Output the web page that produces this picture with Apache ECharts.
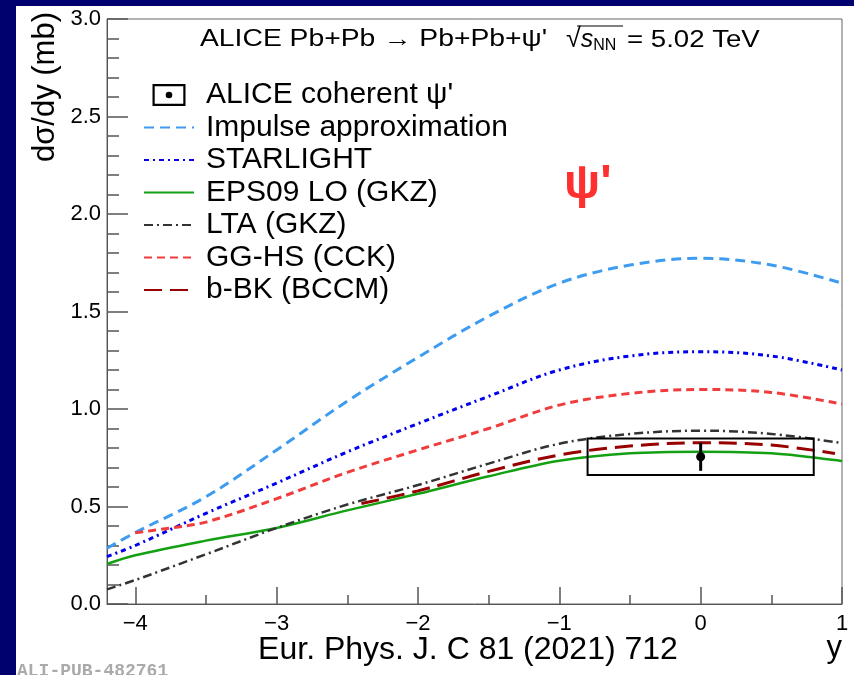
<!DOCTYPE html>
<html><head><meta charset="utf-8">
<script src="https://cdn.jsdelivr.net/npm/echarts@6/dist/echarts.min.js"></script>
<style>html,body{margin:0;padding:0;background:#00006e}#c{width:854px;height:675px}</style>
</head><body><div id="c"></div>
<script>
// ---- data ----
const rapidity  = [-4.2, -4.0, -3.5, -3.0, -2.5, -2.0, -1.5, -1.0, -0.5, 0.0, 0.5, 1.0];
const impulse   = [0.286, 0.366, 0.55, 0.79, 1.04, 1.265, 1.475, 1.645, 1.738, 1.773, 1.738, 1.645];
const starlight = [0.243, 0.30, 0.465, 0.62, 0.78, 0.925, 1.065, 1.200, 1.272, 1.294, 1.272, 1.200];
const eps09     = [0.205, 0.25, 0.325, 0.39, 0.48, 0.565, 0.655, 0.735, 0.773, 0.781, 0.773, 0.733];
const lta       = [0.075, 0.123, 0.255, 0.39, 0.51, 0.61, 0.72, 0.822, 0.872, 0.889, 0.872, 0.825];
const gghsRapidity = [-4.0, -3.75, -3.5, -3.0, -2.5, -2.0, -1.5, -1.0, -0.5, 0.0, 0.5, 1.0];
const gghs         = [0.365, 0.39, 0.42, 0.54, 0.675, 0.79, 0.90, 1.02, 1.08, 1.10, 1.085, 1.025];
const bbkRapidity  = [-2.4, -2.0, -1.5, -1.0, -0.5, 0.0, 0.5, 0.95];
const bbk          = [0.515, 0.58, 0.68, 0.764, 0.81, 0.827, 0.815, 0.772];
const aliceRapidity = [0.0];
const aliceValue    = [0.755];
const aliceStat     = [0.072];
const aliceSyst     = [0.094];
const aliceHalfBin  = [0.8];
const xMajorTicks = [-4, -3, -2, -1, 0, 1];
const xMinorTicks = [-3.5, -2.5, -1.5, -0.5, 0.5];
const seriesNames = ["ALICE coherent \u03c8'", 'Impulse approximation', 'STARLIGHT', 'EPS09 LO (GKZ)', 'LTA (GKZ)', 'GG-HS (CCK)', 'b-BK (BCCM)'];

const pair = (xs, ys) => xs.map((x, i) => [x, ys[i]]);
const FONT = '"Liberation Sans", Arial, sans-serif';

const chart = echarts.init(document.getElementById('c'));
const lineSeries = (name, xs, ys, color, dash, width) => ({
  name, type: 'line', data: pair(xs, ys), smooth: 0.35, symbol: 'none',
  lineStyle: { color, width, type: dash }, itemStyle: { color }, z: 3
});

const boxIcon = 'path://M0,0 L30,0 L30,20 L0,20 Z M2,2 L2,18 L28,18 L28,2 Z M15,7 A3,3 0 1,1 15,13 A3,3 0 1,1 15,7 Z';

chart.setOption({
  backgroundColor: '#00006e',
  animation: false,
  grid: { left: 107, top: 19, width: 735, height: 585, show: true, borderColor: '#666', borderWidth: 1, backgroundColor: 'transparent', containLabel: false },
  xAxis: [{
    type: 'value', min: -4.2, max: 1, position: 'bottom',
    axisLine: { show: true, onZero: false, lineStyle: { color: '#555', width: 1 } },
    axisTick: { show: true, inside: true, length: 17, customValues: xMajorTicks, lineStyle: { color: '#555', width: 1.5 } },
    axisLabel: { show: true, customValues: xMajorTicks, margin: 9, fontSize: 22, color: '#000', fontFamily: FONT,
      formatter: v => String(v).replace('-', '\u2212') },
    splitLine: { show: false }
  }, {
    type: 'value', min: -4.2, max: 1, position: 'bottom', gridIndex: 0,
    axisLine: { show: false, onZero: false },
    axisTick: { show: true, inside: true, length: 9, customValues: xMinorTicks, lineStyle: { color: '#555', width: 1.5 } },
    axisLabel: { show: false }, splitLine: { show: false }
  }],
  yAxis: {
    type: 'value', min: 0, max: 3, interval: 0.5,
    axisLine: { show: true, onZero: false, lineStyle: { color: '#555', width: 1 } },
    axisTick: { show: true, inside: true, length: 21, lineStyle: { color: '#555', width: 1.5 } },
    minorTick: { show: true, splitNumber: 5, length: 12, lineStyle: { color: '#555', width: 1.5 } },
    axisLabel: { margin: 6, fontSize: 22, color: '#000', fontFamily: FONT, formatter: v => v.toFixed(1) },
    splitLine: { show: false }, minorSplitLine: { show: false }
  },
  legend: {
    orient: 'vertical', left: 143, top: 80, padding: 0, itemWidth: 50, itemHeight: 22, itemGap: 2.5,
    itemStyle: { opacity: 0 },
    textStyle: { fontSize: 30, color: '#000', fontFamily: FONT, padding: [0, 0, 0, 7] },
    data: [
      { name: seriesNames[0], icon: boxIcon, itemStyle: { color: '#000', opacity: 1 } },
      { name: seriesNames[1] }, { name: seriesNames[2] }, { name: seriesNames[3] },
      { name: seriesNames[4] }, { name: seriesNames[5] }, { name: seriesNames[6] }
    ]
  },
  series: [
    {
      name: seriesNames[0], type: 'custom', z: 4,
      data: aliceRapidity.map((x, i) => [x, aliceValue[i], aliceStat[i], aliceSyst[i], aliceHalfBin[i]]),
      encode: { x: 0, y: 1 }, itemStyle: { color: '#000' },
      renderItem: (params, api) => {
        const x = api.value(0), v = api.value(1), st = api.value(2), sy = api.value(3), hw = api.value(4);
        const a = api.coord([x - hw, v + sy]), b = api.coord([x + hw, v - sy]);
        const c = api.coord([x, v]), e0 = api.coord([x, v - st]), e1 = api.coord([x, v + st]);
        return { type: 'group', children: [
          { type: 'rect', shape: { x: a[0], y: a[1], width: b[0] - a[0], height: b[1] - a[1] }, style: { fill: 'none', stroke: '#000', lineWidth: 2 } },
          { type: 'line', shape: { x1: e0[0], y1: e0[1], x2: e1[0], y2: e1[1] }, style: { stroke: '#000', lineWidth: 3 } },
          { type: 'circle', shape: { cx: c[0], cy: c[1], r: 4.5 }, style: { fill: '#000' } }
        ] };
      }
    },
    lineSeries(seriesNames[1], rapidity, impulse, '#3d9cf0', [10, 6], 3),
    lineSeries(seriesNames[2], rapidity, starlight, '#0000ee', [5, 4, 2, 4], 3),
    lineSeries(seriesNames[3], rapidity, eps09, '#13a013', 'solid', 2.5),
    lineSeries(seriesNames[4], rapidity, lta, '#333333', [9, 4, 2, 4], 2.5),
    lineSeries(seriesNames[5], gghsRapidity, gghs, '#f03c3c', [8, 5], 3),
    lineSeries(seriesNames[6], bbkRapidity, bbk, '#990000', [18, 8], 3)
  ],
  graphic: [
    { type: 'rect', z: -100, silent: true, shape: { x: 16, y: 6, width: 838, height: 669 }, style: { fill: '#ffffff' } },
    { type: 'text', x: 200, y: 40, scaleX: 1.23, style: { text: 'ALICE Pb+Pb \u2192 Pb+Pb+\u03c8\'', font: '23px ' + FONT, fill: '#000', textVerticalAlign: 'middle' } },
    { type: 'text', x: 566, y: 40, style: { text: '{r|\u221a}{s|s}{sub|NN}', font: '23px ' + FONT, fill: '#000', textVerticalAlign: 'middle',
      rich: { r: { fontSize: 27, fontFamily: FONT }, s: { fontSize: 25, fontStyle: 'italic', fontFamily: FONT }, sub: { fontSize: 16, fontFamily: FONT, verticalAlign: 'bottom', padding: [10, 0, 0, 0] } } } },
    { type: 'text', x: 627, y: 40, scaleX: 1.15, style: { text: '= 5.02 TeV', font: '24px ' + FONT, fill: '#000', textVerticalAlign: 'middle' } },
    { type: 'line', shape: { x1: 577, y1: 26, x2: 623, y2: 26 }, style: { stroke: '#000', lineWidth: 1.2 } },
    { type: 'text', x: 564, y: 185, style: { text: "\u03c8'", font: 'bold 48px ' + FONT, fill: '#ff3030', textVerticalAlign: 'middle' } },
    { type: 'text', x: 45, y: 12, rotation: Math.PI / 2, style: { text: 'd\u03c3/dy (mb)', font: '31px ' + FONT, fill: '#000', textAlign: 'right', textVerticalAlign: 'middle' } },
    { type: 'text', x: 468, y: 650, style: { text: 'Eur. Phys. J. C 81 (2021) 712', font: '32px ' + FONT, fill: '#000', textAlign: 'center', textVerticalAlign: 'middle' } },
    { type: 'text', x: 842, y: 648, style: { text: 'y', font: '31px ' + FONT, fill: '#000', textAlign: 'right', textVerticalAlign: 'middle' } },
    { type: 'text', x: 17, y: 662, style: { text: 'ALI-PUB-482761', font: 'bold 18px "Liberation Mono", monospace', fill: '#aaaaaa', textVerticalAlign: 'top' } }
  ]
});
</script></body></html>
